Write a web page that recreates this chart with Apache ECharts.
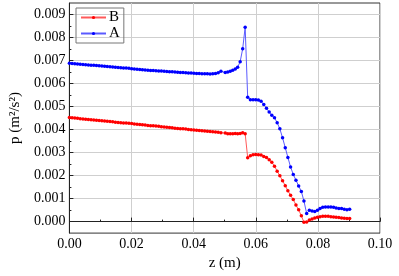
<!DOCTYPE html>
<html><head><meta charset="utf-8">
<script src="https://cdn.jsdelivr.net/npm/echarts@6/dist/echarts.min.js"></script>
<style>html,body{margin:0;padding:0;background:#fff}#c{width:399px;height:276px}</style>
</head><body><div id="c"></div>
<script>
const zValues = [0, 0.00087, 0.00174, 0.00261, 0.00348, 0.00436, 0.00523, 0.0061, 0.00697, 0.00784,
  0.00871, 0.00958, 0.01045, 0.01132, 0.01219, 0.01307, 0.01394, 0.01481, 0.01568, 0.01655,
  0.01742, 0.01829, 0.01916, 0.02003, 0.0209, 0.02178, 0.02265, 0.02352, 0.02439, 0.02526,
  0.02613, 0.027, 0.02787, 0.02874, 0.02961, 0.03049, 0.03136, 0.03223, 0.0331, 0.03397,
  0.03484, 0.03571, 0.03658, 0.03745, 0.03832, 0.0392, 0.04007, 0.04094, 0.04181, 0.04268,
  0.04355, 0.04442, 0.04529, 0.04616, 0.04703, 0.04791, 0.04878,
  0.05017, 0.05098, 0.05178, 0.05259, 0.0534, 0.05417, 0.05498, 0.05579, 0.05659, 0.0574,
  0.05827, 0.05914, 0.05998, 0.06084, 0.06171, 0.06258, 0.06345, 0.06432, 0.06516, 0.06603,
  0.06689, 0.06776, 0.06863, 0.0695, 0.07034, 0.07121, 0.07208, 0.07294, 0.07381, 0.07468,
  0.07552, 0.07639, 0.07726, 0.07813, 0.079, 0.07986, 0.0807, 0.08157, 0.08244, 0.08331,
  0.08418, 0.08504, 0.08588, 0.08675, 0.08762, 0.08849, 0.08936, 0.09023];

const seriesB = [0.00452, 0.00451, 0.0045, 0.00449, 0.00447, 0.00446, 0.00445, 0.00444, 0.00443, 0.00442,
  0.0044, 0.00439, 0.00438, 0.00437, 0.00436, 0.00435, 0.00434, 0.00432, 0.00431, 0.0043,
  0.00429, 0.00428, 0.00427, 0.00426, 0.00424, 0.00423, 0.00422, 0.00421, 0.0042, 0.00418,
  0.00417, 0.00416, 0.00415, 0.00414, 0.00412, 0.00411, 0.0041, 0.00409, 0.00408, 0.00406,
  0.00405, 0.00404, 0.00403, 0.00402, 0.004, 0.00399, 0.00398, 0.00397, 0.00396, 0.00395,
  0.00394, 0.00393, 0.00392, 0.00391, 0.00389, 0.00388, 0.00386,
  0.00385, 0.00382, 0.00382, 0.00382, 0.00383, 0.00382, 0.00383, 0.00386, 0.00382, 0.00278,
  0.00286, 0.0029, 0.00292, 0.0029, 0.00289, 0.00283, 0.00279, 0.00269, 0.00258, 0.00241,
  0.00219, 0.00199, 0.00178, 0.00156, 0.00134, 0.00114, 0.00096, 0.00072, 0.00051, 0.00025,
  -0.00003, -0.00002, 0.00007, 0.00011, 0.00016, 0.00019, 0.00021, 0.00023, 0.00023, 0.00023,
  0.00021, 0.0002, 0.00019, 0.00018, 0.00016, 0.00014, 0.00013, 0.00013];

const seriesA = [0.00688, 0.00687, 0.00686, 0.00685, 0.00684, 0.00683, 0.00682, 0.00681, 0.0068, 0.00679,
  0.00678, 0.00677, 0.00676, 0.00675, 0.00674, 0.00673, 0.00672, 0.00671, 0.0067, 0.00669,
  0.00668, 0.00667, 0.00666, 0.00664, 0.00663, 0.00662, 0.00661, 0.0066, 0.00659, 0.00658,
  0.00657, 0.00657, 0.00656, 0.00655, 0.00654, 0.00653, 0.00652, 0.00651, 0.00651, 0.0065,
  0.00649, 0.00648, 0.00648, 0.00647, 0.00646, 0.00646, 0.00645, 0.00644, 0.00644, 0.00643,
  0.00642, 0.00642, 0.00641, 0.00642, 0.00644, 0.00647, 0.00653,
  0.00648, 0.0065, 0.00653, 0.00658, 0.00663, 0.00671, 0.00695, 0.00751, 0.00845, 0.0054,
  0.0053, 0.0053, 0.0053, 0.00528, 0.00523, 0.00509, 0.00493, 0.00476, 0.00462, 0.00451,
  0.0043, 0.00403, 0.00364, 0.00321, 0.00279, 0.00237, 0.00205, 0.0018, 0.00155, 0.00131,
  0.00089, 0.00035, 0.00049, 0.00046, 0.00044, 0.00049, 0.00057, 0.00062, 0.00063, 0.00063,
  0.00063, 0.00062, 0.00059, 0.00057, 0.00057, 0.00054, 0.00052, 0.00054];

const yTicks = [0, 0.001, 0.002, 0.003, 0.004, 0.005, 0.006, 0.007, 0.008, 0.009];
const yMinorTicks = [0.0005, 0.0015, 0.0025, 0.0035, 0.0045, 0.0055, 0.0065, 0.0075, 0.0085];

const FONT = 'Liberation Serif';
const pairs = (ys) => zValues.map((z, i) => [z, ys[i]]);

const chart = echarts.init(document.getElementById('c'), null, {renderer: 'canvas'});
chart.setOption({
  animation: false,
  backgroundColor: '#fff',
  grid: {left: 58, right: 19, top: 3, bottom: 37, show: true, borderColor: '#333', borderWidth: 1},
  legend: {
    left: 76, top: 8, orient: 'vertical',
    data: ['B', 'A'],
    borderColor: '#777', borderWidth: 1, padding: [2, 4, 2, 4],
    itemWidth: 25, itemHeight: 4, itemGap: 1,
    textStyle: {fontFamily: FONT, fontSize: 15, lineHeight: 14, color: '#000', padding: [0, 0, 0, -2]}
  },
  xAxis: {
    type: 'value', min: 0, max: 0.1, interval: 0.02,
    name: 'z (m)', nameLocation: 'middle', nameGap: 20,
    nameTextStyle: {fontFamily: FONT, fontSize: 15, color: '#000'},
    axisLine: {lineStyle: {color: '#222', width: 1}},
    axisTick: {inside: true, length: 4, lineStyle: {color: '#222'}},
    minorTick: {show: true, splitNumber: 2, length: 2, lineStyle: {color: '#222'}},
    axisLabel: {fontFamily: FONT, fontSize: 14, color: '#000', margin: 4, formatter: v => v.toFixed(2)},
    splitLine: {show: true, lineStyle: {color: '#cfcfcf', width: 1}}
  },
  yAxis: [{
    type: 'value', min: -0.0005, max: 0.0095, position: 'left',
    name: 'p (m²/s²)', nameLocation: 'middle', nameGap: 37,
    nameTextStyle: {fontFamily: FONT, fontSize: 15, color: '#000'},
    axisLine: {show: true, lineStyle: {color: '#222', width: 1}},
    axisTick: {show: true, inside: true, length: 4, customValues: yTicks, lineStyle: {color: '#222'}},
    axisLabel: {fontFamily: FONT, fontSize: 14, color: '#000', margin: 4, customValues: yTicks, formatter: v => v.toFixed(3)},
    splitLine: {show: true, lineStyle: {color: '#cfcfcf', width: 1}}
  }, {
    type: 'value', min: -0.0005, max: 0.0095, position: 'left', offset: 0,
    axisLine: {show: false},
    axisTick: {show: true, inside: true, length: 2, customValues: yMinorTicks, lineStyle: {color: '#222'}},
    axisLabel: {show: false},
    splitLine: {show: false}
  }],
  series: [{
    name: 'B', type: 'line', data: pairs(seriesB),
    symbol: 'circle', symbolSize: 3.5, showSymbol: true,
    itemStyle: {color: '#ff0000'},
    lineStyle: {color: '#ff5a5a', width: 1}
  }, {
    name: 'A', type: 'line', data: pairs(seriesA),
    symbol: 'circle', symbolSize: 3.5, showSymbol: true,
    itemStyle: {color: '#0000ff'},
    lineStyle: {color: '#5a5aff', width: 1}
  }]
});
</script></body></html>
